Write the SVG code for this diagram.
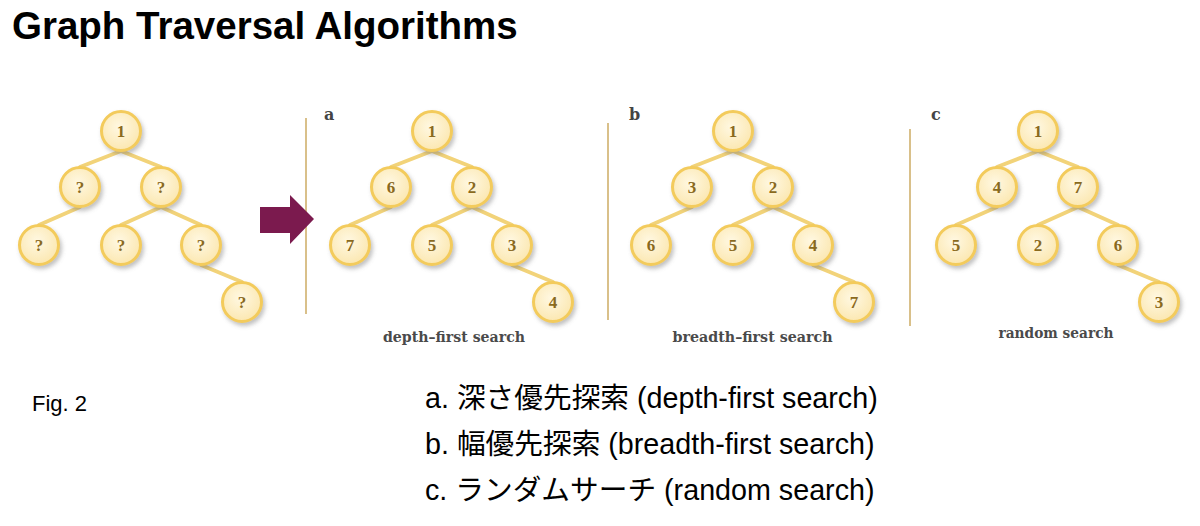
<svg xmlns="http://www.w3.org/2000/svg" width="1200" height="526" viewBox="0 0 1200 526">
<defs>
<radialGradient id="nodeFill" cx="45%" cy="40%" r="65%">
<stop offset="0%" stop-color="#fff8e2"/>
<stop offset="100%" stop-color="#fbe6ad"/>
</radialGradient>
<filter id="shadow" x="-40%" y="-40%" width="190%" height="190%">
<feDropShadow dx="2" dy="3" stdDeviation="2" flood-color="#777" flood-opacity="0.45"/>
</filter>
</defs>
<style>
.title{font-family:"Liberation Sans",Arial,sans-serif;font-weight:bold;font-size:38.5px;fill:#000}
.fig{font-family:"Liberation Sans",Arial,sans-serif;font-size:22px;fill:#000}
.list{font-family:"Liberation Sans",Arial,"Noto Sans CJK JP",sans-serif;font-size:28.7px;fill:#000}
.edge{stroke:#f2d379;stroke-width:4;stroke-linecap:round;fill:none}
.sep{stroke:#d9c08a;stroke-width:2;fill:none}
.node circle{fill:url(#nodeFill);stroke:#f3cb5c;stroke-width:3;filter:url(#shadow)}
.node text{font-family:"Liberation Serif","DejaVu Serif",serif;font-weight:bold;font-size:17px;fill:#8a6a1e;text-anchor:middle}
.cap{font-family:"DejaVu Serif",serif;font-weight:bold;font-size:15px;fill:#4a4a4a;text-anchor:middle}
.plabel{font-family:"DejaVu Serif",serif;font-weight:bold;font-size:16px;fill:#444}
</style>
<rect width="1200" height="526" fill="#fff"/>
<text class="title" x="12" y="39">Graph Traversal Algorithms</text>

<g id="separators">
<line class="sep" x1="306" y1="118" x2="306" y2="314"/>
<line class="sep" x1="608" y1="123" x2="608" y2="320"/>
<line class="sep" x1="910" y1="129" x2="910" y2="326"/>
</g>

<g id="arrow">
<polygon points="260,207 290,207 290,195 314,219 290,244 290,233 260,233" fill="#7b1a4e"/>
</g>

<g id="connectors">
<line class="edge" x1="121" y1="151" x2="80" y2="167"/>
<line class="edge" x1="121" y1="151" x2="161" y2="167"/>
<line class="edge" x1="80" y1="207" x2="39" y2="225"/>
<line class="edge" x1="161" y1="207" x2="121" y2="225"/>
<line class="edge" x1="161" y1="207" x2="201" y2="225"/>
<line class="edge" x1="201" y1="265" x2="242" y2="282"/>
<line class="edge" x1="432" y1="151" x2="391" y2="167"/>
<line class="edge" x1="432" y1="151" x2="472" y2="167"/>
<line class="edge" x1="391" y1="207" x2="350" y2="225"/>
<line class="edge" x1="472" y1="207" x2="432" y2="225"/>
<line class="edge" x1="472" y1="207" x2="512" y2="225"/>
<line class="edge" x1="512" y1="265" x2="553" y2="282"/>
<line class="edge" x1="733" y1="151" x2="692" y2="167"/>
<line class="edge" x1="733" y1="151" x2="773" y2="167"/>
<line class="edge" x1="692" y1="207" x2="651" y2="225"/>
<line class="edge" x1="773" y1="207" x2="733" y2="225"/>
<line class="edge" x1="773" y1="207" x2="813" y2="225"/>
<line class="edge" x1="813" y1="265" x2="854" y2="282"/>
<line class="edge" x1="1038" y1="151" x2="997" y2="167"/>
<line class="edge" x1="1038" y1="151" x2="1078" y2="167"/>
<line class="edge" x1="997" y1="207" x2="956" y2="225"/>
<line class="edge" x1="1078" y1="207" x2="1038" y2="225"/>
<line class="edge" x1="1078" y1="207" x2="1118" y2="225"/>
<line class="edge" x1="1118" y1="265" x2="1159" y2="282"/>
</g>

<g id="q-root" class="node"><circle cx="121" cy="131" r="19.5"/><text x="121" y="137">1</text></g>
<g id="q-l" class="node"><circle cx="80" cy="187" r="19.5"/><text x="80" y="193">?</text></g>
<g id="q-r" class="node"><circle cx="161" cy="187" r="19.5"/><text x="161" y="193">?</text></g>
<g id="q-ll" class="node"><circle cx="39" cy="245" r="19.5"/><text x="39" y="251">?</text></g>
<g id="q-rl" class="node"><circle cx="121" cy="245" r="19.5"/><text x="121" y="251">?</text></g>
<g id="q-rr" class="node"><circle cx="201" cy="245" r="19.5"/><text x="201" y="251">?</text></g>
<g id="q-rrr" class="node"><circle cx="242" cy="302" r="19.5"/><text x="242" y="308">?</text></g>

<text class="plabel" x="324" y="120">a</text>
<g id="a-root" class="node"><circle cx="432" cy="131" r="19.5"/><text x="432" y="137">1</text></g>
<g id="a-l" class="node"><circle cx="391" cy="187" r="19.5"/><text x="391" y="193">6</text></g>
<g id="a-r" class="node"><circle cx="472" cy="187" r="19.5"/><text x="472" y="193">2</text></g>
<g id="a-ll" class="node"><circle cx="350" cy="245" r="19.5"/><text x="350" y="251">7</text></g>
<g id="a-rl" class="node"><circle cx="432" cy="245" r="19.5"/><text x="432" y="251">5</text></g>
<g id="a-rr" class="node"><circle cx="512" cy="245" r="19.5"/><text x="512" y="251">3</text></g>
<g id="a-rrr" class="node"><circle cx="553" cy="302" r="19.5"/><text x="553" y="308">4</text></g>
<text class="cap" x="454" y="342" textLength="142" lengthAdjust="spacingAndGlyphs">depth–first search</text>

<text class="plabel" x="629" y="120">b</text>
<g id="b-root" class="node"><circle cx="733" cy="131" r="19.5"/><text x="733" y="137">1</text></g>
<g id="b-l" class="node"><circle cx="692" cy="187" r="19.5"/><text x="692" y="193">3</text></g>
<g id="b-r" class="node"><circle cx="773" cy="187" r="19.5"/><text x="773" y="193">2</text></g>
<g id="b-ll" class="node"><circle cx="651" cy="245" r="19.5"/><text x="651" y="251">6</text></g>
<g id="b-rl" class="node"><circle cx="733" cy="245" r="19.5"/><text x="733" y="251">5</text></g>
<g id="b-rr" class="node"><circle cx="813" cy="245" r="19.5"/><text x="813" y="251">4</text></g>
<g id="b-rrr" class="node"><circle cx="854" cy="302" r="19.5"/><text x="854" y="308">7</text></g>
<text class="cap" x="752.5" y="342" textLength="160" lengthAdjust="spacingAndGlyphs">breadth–first search</text>

<text class="plabel" x="931" y="120">c</text>
<g id="c-root" class="node"><circle cx="1038" cy="131" r="19.5"/><text x="1038" y="137">1</text></g>
<g id="c-l" class="node"><circle cx="997" cy="187" r="19.5"/><text x="997" y="193">4</text></g>
<g id="c-r" class="node"><circle cx="1078" cy="187" r="19.5"/><text x="1078" y="193">7</text></g>
<g id="c-ll" class="node"><circle cx="956" cy="245" r="19.5"/><text x="956" y="251">5</text></g>
<g id="c-rl" class="node"><circle cx="1038" cy="245" r="19.5"/><text x="1038" y="251">2</text></g>
<g id="c-rr" class="node"><circle cx="1118" cy="245" r="19.5"/><text x="1118" y="251">6</text></g>
<g id="c-rrr" class="node"><circle cx="1159" cy="302" r="19.5"/><text x="1159" y="308">3</text></g>
<text class="cap" x="1056" y="338" textLength="115" lengthAdjust="spacingAndGlyphs">random search</text>

<text class="fig" x="32" y="411">Fig. 2</text>
<text class="list" x="425" y="408">a. 深さ優先探索 (depth-first search)</text>
<text class="list" x="425" y="454">b. 幅優先探索 (breadth-first search)</text>
<text class="list" x="425" y="500">c. ランダムサーチ (random search)</text>
</svg>
